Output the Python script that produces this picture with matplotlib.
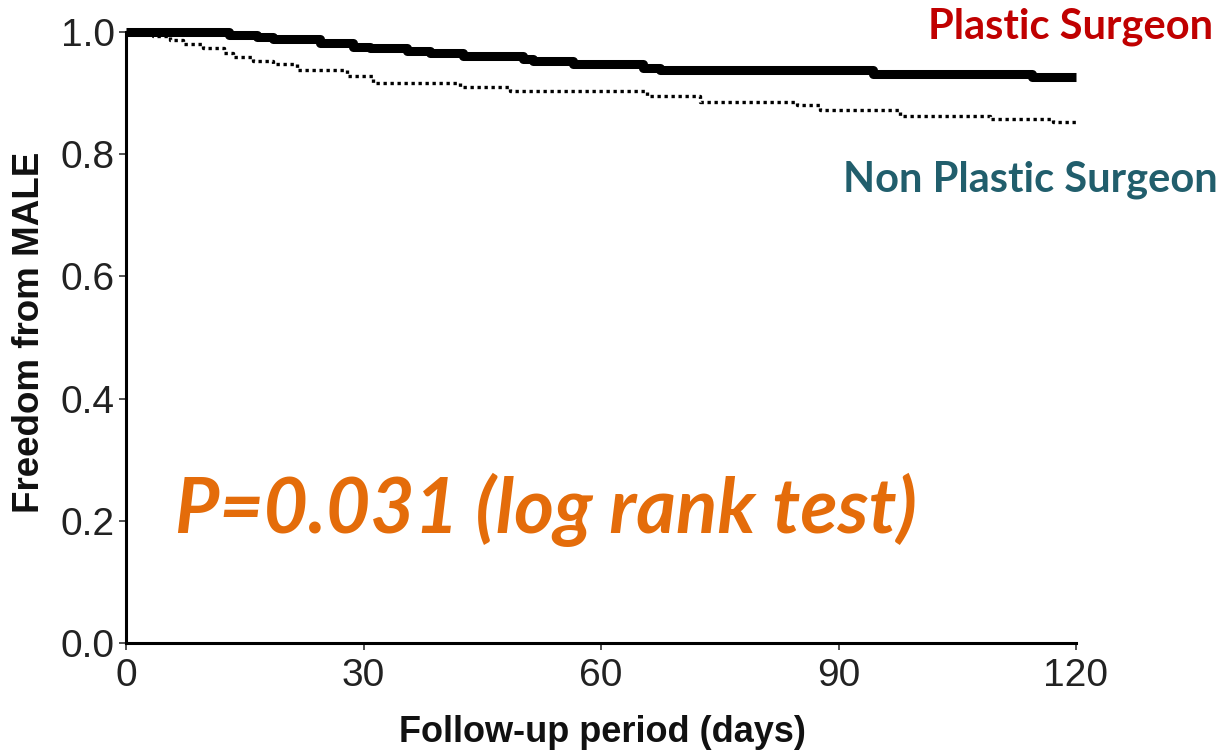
import matplotlib
matplotlib.use("Agg")
import matplotlib.pyplot as plt

# ---- data ----
ps_days = [0, 13, 16.5, 18.6, 24.5, 28.7, 30.8, 35.5, 38.4, 42.6, 50.1, 51.4,
           56.5, 65.3, 67.5, 94.3, 114.5, 120]
ps_surv = [1.0, 0.995, 0.992, 0.988, 0.982, 0.976, 0.973, 0.969, 0.965, 0.960,
           0.956, 0.952, 0.947, 0.941, 0.937, 0.932, 0.927, 0.927]

nps_days = [0, 3.4, 5.6, 7.2, 9.7, 12.4, 13.5, 16, 18.6, 21.6, 27.9, 31.2,
            42.2, 48.5, 65.8, 72.5, 84.8, 87.7, 97.8, 109.1, 117.1, 120]
nps_surv = [1.0, 0.993, 0.987, 0.980, 0.974, 0.966, 0.959, 0.952, 0.947, 0.938,
            0.928, 0.917, 0.910, 0.904, 0.895, 0.886, 0.880, 0.872, 0.862,
            0.858, 0.853, 0.853]

x_ticks = [0, 30, 60, 90, 120]
y_ticks = [0.0, 0.2, 0.4, 0.6, 0.8, 1.0]
y_tick_labels = ["0.0", "0.2", "0.4", "0.6", "0.8", "1.0"]

label_ps = "Plastic Surgeon"
label_nps = "Non Plastic Surgeon"
p_text = "P=0.031 (log rank test)"
x_label = "Follow-up period (days)"
y_label = "Freedom from MALE"

# ---- styling ----
tick_font = ["Liberation Sans Narrow", "Liberation Sans", "DejaVu Sans"]
label_font = ["Liberation Sans", "DejaVu Sans"]
callout_font = ["Lato", "Open Sans", "DejaVu Sans"]

fig = plt.figure(figsize=(12.24, 7.55), dpi=100)
ax = fig.add_axes([126 / 1224, 1 - 643 / 755, (1076 - 126) / 1224, (643 - 32) / 755])

ax.step(ps_days, ps_surv, where="post", color="black", lw=6.5,
        solid_capstyle="butt", clip_on=False, zorder=3)
ax.step(nps_days, nps_surv, where="post", color="black", lw=2.4,
        linestyle=(0, (1, 1.1)), clip_on=False, zorder=2)

ax.set_xlim(0, 120)
ax.set_ylim(0, 1.0)
ax.set_xticks(x_ticks)
ax.set_yticks(y_ticks)
ax.set_yticklabels(y_tick_labels)
for s in ["top", "right"]:
    ax.spines[s].set_visible(False)
for s in ["left", "bottom"]:
    ax.spines[s].set_linewidth(2.2)
ax.tick_params(axis="both", direction="out", length=5, width=1.2, labelsize=28,
               color="#333333", labelcolor="#222222")
ax.tick_params(axis="x", pad=6)
ax.tick_params(axis="y", pad=3)
for lab in ax.get_xticklabels() + ax.get_yticklabels():
    lab.set_family(tick_font)

fig.text(602 / 1224, 1 - 733 / 755, x_label, ha="center", va="center",
         fontsize=26, fontweight="bold", family=label_font, color="#111111")
fig.text(30 / 1224, 1 - 332 / 755, y_label, ha="center", va="center",
         rotation=90, fontsize=26.5, fontweight="bold", family=label_font,
         color="#111111")

fig.text(1213 / 1224, 1 - 27 / 755, label_ps, ha="right", va="center",
         fontsize=30, fontweight="bold", family=callout_font, color="#C00000")
fig.text(1218 / 1224, 1 - 180 / 755, label_nps, ha="right", va="center",
         fontsize=30, fontweight="bold", family=callout_font, color="#215E6C")

fig.text(175 / 1224, 1 - 510 / 755, p_text, ha="left", va="center",
         fontsize=55, fontweight="bold", fontstyle="italic",
         family=callout_font, color="#E46C0A")

fig.savefig("out.png", dpi=100)
